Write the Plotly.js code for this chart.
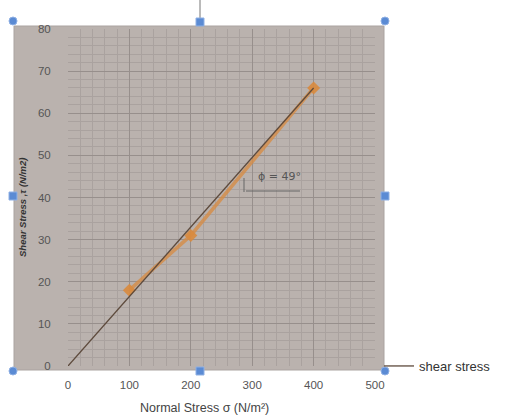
<!DOCTYPE html>
<html>
<head>
<meta charset="utf-8">
<script src="https://cdn.plot.ly/plotly-3.0.1.min.js"></script>
<style>html,body{margin:0;padding:0;background:#fff;}#chart{width:509px;height:416px;}</style>
</head>
<body>
<div id="chart"></div>
<script>
// Data
var normalStress = [100, 200, 400];
var shearStress = [18, 31, 66];
var fitX = [0, 400];
var fitY = [0, 66];
var xTicks = [0, 100, 200, 300, 400, 500];
var yTicks = [0, 10, 20, 30, 40, 50, 60, 70, 80];
var seriesName = 'shear stress';
var angleLabel = '\u03D5 = 49\u00B0';

// pixel -> paper helpers for decorations
var L = 68, R = 375, T = 29, B = 366;
function PX(x){ return (x - L) / (R - L); }
function PY(y){ return (B - y) / (B - T); }

var traces = [
  {
    x: normalStress, y: shearStress, type: 'scatter', mode: 'lines+markers',
    line: {color: 'rgba(214,140,70,0.8)', width: 3.5},
    marker: {symbol: 'diamond', size: 10, color: 'rgba(217,138,61,0.9)'},
    showlegend: false, hoverinfo: 'x+y'
  },
  {
    x: fitX, y: fitY, type: 'scatter', mode: 'lines',
    line: {color: '#5d4a3c', width: 1.3},
    name: seriesName, showlegend: true
  }
];

var handleColor = '#5b8bd4';
function circ(x, y){ return {type:'circle', xref:'paper', yref:'paper', x0:PX(x-4), x1:PX(x+4), y0:PY(y+4), y1:PY(y-4), fillcolor:handleColor, line:{color:'#8fb0e4', width:1}, layer:'above'}; }
function sq(x, y){ return {type:'rect', xref:'paper', yref:'paper', x0:PX(x-4), x1:PX(x+4), y0:PY(y+4), y1:PY(y-4), fillcolor:handleColor, line:{color:'#8fb0e4', width:1}, layer:'above'}; }

var shapes = [
  {type:'rect', xref:'paper', yref:'paper', x0:PX(14), x1:PX(384), y0:PY(370), y1:PY(26), fillcolor:'#bab2ae', line:{color:'#aaa3a0', width:1}, layer:'below'},
  {type:'line', xref:'paper', yref:'paper', x0:PX(200), x1:PX(200), y0:PY(0), y1:PY(18), line:{color:'#777', width:1}},
  // angle construction lines
  {type:'line', xref:'paper', yref:'paper', x0:PX(246), x1:PX(300), y0:PY(191), y1:PY(191), line:{color:'#666', width:1}},
  {type:'line', xref:'paper', yref:'paper', x0:PX(244), x1:PX(244), y0:PY(178), y1:PY(192), line:{color:'#666', width:1}},
  circ(13,21), circ(385,21), circ(13,371), circ(385,371),
  sq(200,22), sq(13,196), sq(385,196), sq(200,371)
];

var layout = {
  width: 509, height: 416,
  margin: {l: L, r: 509 - R, t: T, b: 416 - B},
  paper_bgcolor: '#ffffff',
  plot_bgcolor: 'rgba(0,0,0,0)',
  font: {family: 'Liberation Sans, Arial, sans-serif', color: '#444'},
  xaxis: {
    range: [0, 500], tickvals: xTicks, ticktext: xTicks.map(String),
    ticks: 'outside', ticklen: 8, tickcolor: 'rgba(0,0,0,0)',
    showgrid: true, gridcolor: '#978f8c', gridwidth: 1,
    minor: {dtick: 20, showgrid: true, gridcolor: '#aaa29f', gridwidth: 1},
    zeroline: false, showline: false,
    tickfont: {size: 11.5, color: '#555'}
  },
  yaxis: {
    range: [0, 80], tickvals: yTicks, ticktext: yTicks.map(String),
    ticks: 'outside', ticklen: 14, tickcolor: 'rgba(0,0,0,0)',
    showgrid: true, gridcolor: '#978f8c', gridwidth: 1,
    minor: {dtick: 2, showgrid: true, gridcolor: '#aaa29f', gridwidth: 1},
    zeroline: false, showline: false,
    tickfont: {size: 11.5, color: '#555'}
  },
  showlegend: true,
  legend: {x: PX(379), y: PY(366), xanchor: 'left', yanchor: 'middle', bgcolor: 'rgba(0,0,0,0)', font: {size: 13, color: '#333'}},
  shapes: shapes,
  annotations: [
    {xref:'paper', yref:'paper', x: PX(204), y: PY(408), text: 'Normal Stress \u03C3 (N/m\u00B2)', showarrow:false, font:{size:12.5, color:'#444'}, xanchor:'center', yanchor:'middle'},
    {xref:'paper', yref:'paper', x: PX(22), y: PY(208), text: '<b><i>Shear Stress ,\u03C4 (N/m2)</i></b>', textangle:-90, showarrow:false, font:{size:9.5, color:'#333'}, xanchor:'center', yanchor:'middle'},
    {xref:'paper', yref:'paper', x: PX(279), y: PY(177), text: angleLabel, showarrow:false, font:{size:11, color:'#555', family:'DejaVu Sans'}, xanchor:'center', yanchor:'middle'}
  ]
};

Plotly.newPlot('chart', traces, layout, {displayModeBar: false, staticPlot: true});
</script>
</body>
</html>
